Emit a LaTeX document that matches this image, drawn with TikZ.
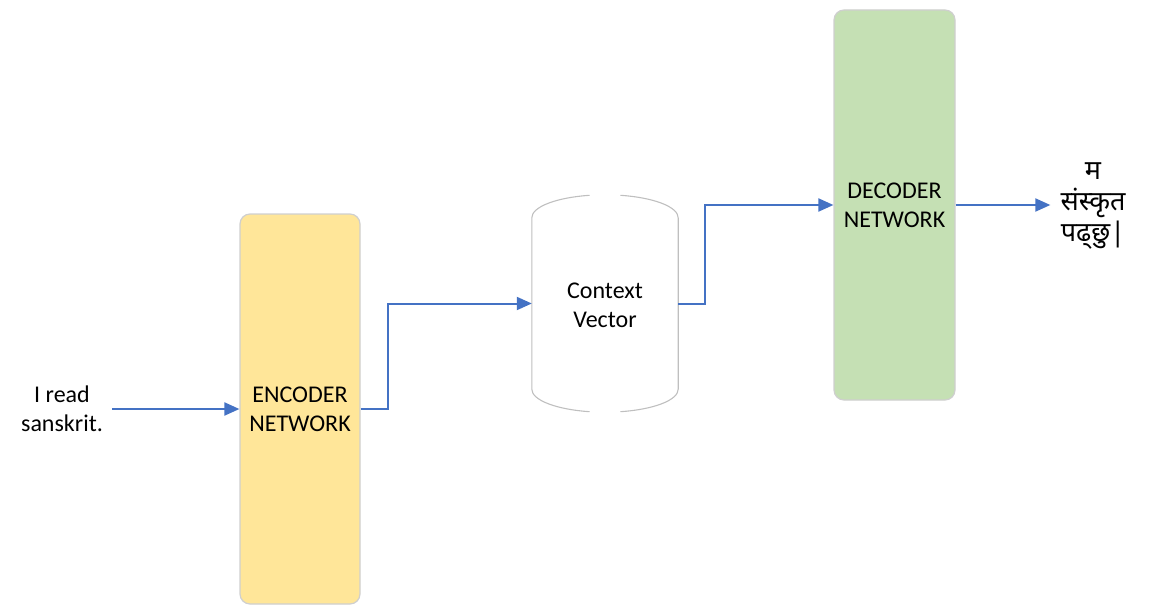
\documentclass[tikz,border=0pt]{standalone}
\usepackage{fontspec}
\setmainfont{Carlito}
\newfontfamily\deva[Script=Devanagari]{Noto Sans}
\usetikzlibrary{arrows.meta,calc}
\definecolor{encyellow}{HTML}{FFE699}
\definecolor{decgreen}{HTML}{C5E0B4}
\definecolor{arrowblue}{HTML}{4472C4}
\definecolor{boxline}{HTML}{CFCFCF}
\definecolor{ctxgray}{HTML}{BFBFBF}
\tikzset{
  netbox/.style={rectangle, rounded corners=10pt, draw=boxline, line width=1.2pt,
    minimum width=120pt, minimum height=390pt, align=center, inner sep=0pt,
    font=\fontsize{24}{29}\selectfont},
  lbl/.style={align=center, font=\fontsize{24}{29}\selectfont},
  flow/.style={draw=arrowblue, line width=2pt, -{Triangle[length=15pt,width=13pt]}},
  ctxline/.style={draw=ctxgray, line width=1.1pt},
}
\begin{document}
\begin{tikzpicture}[x=1pt,y=-1pt]
\useasboundingbox (0,0) rectangle (1154,615);
\node[netbox, fill=encyellow] (enc) at (300,409) {ENCODER\\NETWORK};
\node[netbox, fill=decgreen, minimum width=121pt] (dec) at (894.5,205) {DECODER\\NETWORK};
\node[rectangle, minimum width=146pt, minimum height=217pt, inner sep=0pt] (ctx) at (605,303.5) {};
\node[lbl] (ctxtext) at (605,305.5) {Context\\Vector};
\node[lbl, inner xsep=9pt] (inp) at (62,409) {I read\\sanskrit.};
\node[lbl, inner xsep=10pt, font=\deva\fontsize{27}{31}\selectfont] (out) at (1093,206) {म\\संस्कृत\\पढ्छु|};
% context vector outline
\coordinate (A) at ($(ctx.north west)+(0,23)$);
\coordinate (B) at ($(ctx.south west)+(0,-23)$);
\coordinate (C) at ($(ctx.north east)+(0,23)$);
\coordinate (D) at ($(ctx.south east)+(0,-23)$);
\draw[ctxline] (A) arc[start angle=180, end angle=258, x radius=73, y radius=23]
  (A) -- (B) arc[start angle=180, end angle=102, x radius=73, y radius=23];
\draw[ctxline] (C) arc[start angle=0, end angle=-78, x radius=73, y radius=23]
  (C) -- (D) arc[start angle=0, end angle=78, x radius=73, y radius=23];
% connectors
\draw[flow] (inp.east) -- (enc.west);
\draw[flow] (enc.east) -- ++(27,0) |- (ctx.west);
\draw[flow] (ctx.east) -- ++(27,0) |- (dec.west);
\draw[flow] (dec.east) -- (dec.east -| out.west);
\end{tikzpicture}
\end{document}
